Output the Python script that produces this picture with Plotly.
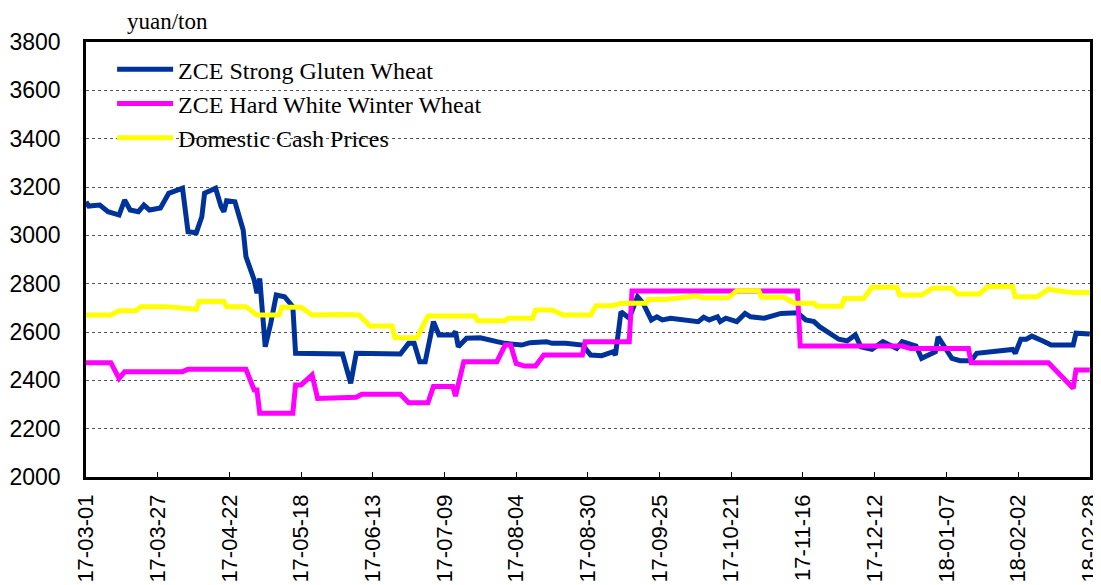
import plotly.graph_objects as go

# ZCE Strong Gluten Wheat
gluten_dates = ["2017-03-01","2017-03-02","2017-03-06","2017-03-09","2017-03-13","2017-03-15","2017-03-17",
    "2017-03-20","2017-03-22","2017-03-24","2017-03-28","2017-03-31","2017-04-05","2017-04-07","2017-04-10",
    "2017-04-12","2017-04-13","2017-04-17","2017-04-19","2017-04-20","2017-04-21","2017-04-24","2017-04-27",
    "2017-04-28","2017-05-01","2017-05-02","2017-05-03","2017-05-05","2017-05-07","2017-05-09","2017-05-12",
    "2017-05-15","2017-05-16","2017-06-02","2017-06-05","2017-06-07","2017-06-23","2017-06-26","2017-06-28",
    "2017-06-30","2017-07-02","2017-07-05","2017-07-07","2017-07-12","2017-07-13","2017-07-14","2017-07-17",
    "2017-07-22","2017-07-28","2017-07-31","2017-08-06","2017-08-09","2017-08-15","2017-08-17","2017-08-22",
    "2017-08-28","2017-08-31","2017-09-04","2017-09-08","2017-09-09","2017-09-11","2017-09-14","2017-09-17",
    "2017-09-19","2017-09-22","2017-09-24","2017-09-26","2017-09-29","2017-10-09","2017-10-11","2017-10-13",
    "2017-10-16","2017-10-17","2017-10-19","2017-10-23","2017-10-26","2017-10-28","2017-11-02","2017-11-08",
    "2017-11-14","2017-11-17","2017-11-20","2017-11-22","2017-11-26","2017-11-29","2017-12-02","2017-12-05",
    "2017-12-07","2017-12-11","2017-12-15","2017-12-20","2017-12-22","2017-12-27","2017-12-29","2018-01-03",
    "2018-01-04","2018-01-09","2018-01-12","2018-01-16","2018-01-18","2018-01-25","2018-01-31","2018-02-01",
    "2018-02-03","2018-02-05","2018-02-07","2018-02-11","2018-02-14","2018-02-22","2018-02-23","2018-02-28"]
gluten_values = [3139,3121,3125,3098,3084,3146,3105,3098,3125,3105,3113,3174,3195,3015,3011,3077,3174,3195,
    3118,3098,3143,3139,3022,2912,2815,2760,2822,2539,2636,2753,2746,2705,2512,2509,2388,2512,2509,2553,2553,
    2477,2477,2643,2588,2588,2601,2539,2574,2576,2560,2553,2546,2556,2560,2553,2553,2546,2505,2502,2518,2505,
    2684,2657,2746,2719,2650,2663,2650,2657,2643,2661,2650,2663,2643,2657,2643,2677,2663,2657,2677,2680,2650,
    2643,2622,2595,2570,2563,2588,2539,2528,2560,2532,2560,2542,2491,2518,2580,2491,2481,2481,2512,2521,2528,
    2512,2570,2570,2583,2563,2546,2546,2595,2592]

# ZCE Hard White Winter Wheat
hard_dates = ["2017-03-01","2017-03-10","2017-03-13","2017-03-15","2017-04-05","2017-04-07","2017-04-28",
    "2017-05-01","2017-05-02","2017-05-03","2017-05-15","2017-05-16","2017-05-18","2017-05-22","2017-05-24",
    "2017-06-07","2017-06-09","2017-06-23","2017-06-26","2017-07-03","2017-07-05","2017-07-12","2017-07-13",
    "2017-07-16","2017-07-28","2017-07-31","2017-08-02","2017-08-04","2017-08-07","2017-08-11","2017-08-14",
    "2017-08-28","2017-08-29","2017-09-14","2017-09-15","2017-11-14","2017-11-15","2017-12-22","2017-12-25",
    "2018-01-15","2018-01-16","2018-02-13","2018-02-22","2018-02-23","2018-02-28"]
hard_values = [2473,2473,2408,2436,2436,2446,2446,2360,2360,2264,2264,2381,2381,2422,2325,2330,2342,2342,
    2307,2307,2375,2375,2335,2477,2477,2546,2546,2470,2459,2459,2505,2505,2560,2560,2770,2770,2542,2542,2532,
    2532,2473,2473,2367,2443,2443]

# Domestic Cash Prices
cash_dates = ["2017-03-01","2017-03-10","2017-03-13","2017-03-19","2017-03-21","2017-03-30","2017-04-10",
    "2017-04-11","2017-04-20","2017-04-21","2017-04-28","2017-05-02","2017-05-10","2017-05-11","2017-05-18",
    "2017-05-22","2017-06-01","2017-06-08","2017-06-12","2017-06-20","2017-06-21","2017-06-29","2017-07-03",
    "2017-07-20","2017-07-21","2017-07-31","2017-08-01","2017-08-10","2017-08-11","2017-08-17","2017-08-21",
    "2017-08-31","2017-09-02","2017-09-08","2017-09-11","2017-09-20","2017-09-21","2017-09-27","2017-10-08",
    "2017-10-11","2017-10-20","2017-10-23","2017-10-31","2017-11-01","2017-11-09","2017-11-13","2017-11-20",
    "2017-11-21","2017-11-30","2017-12-01","2017-12-08","2017-12-11","2017-12-20","2017-12-21","2017-12-29",
    "2018-01-02","2018-01-09","2018-01-11","2018-01-19","2018-01-22","2018-01-31","2018-02-01","2018-02-09",
    "2018-02-13","2018-02-17","2018-02-22","2018-02-28"]
cash_values = [2670,2670,2688,2688,2705,2705,2694,2726,2726,2705,2705,2670,2670,2702,2702,2670,2672,2670,
    2625,2625,2576,2576,2666,2666,2647,2647,2657,2657,2691,2691,2670,2670,2709,2709,2719,2719,2735,2735,2749,
    2742,2742,2771,2771,2744,2744,2719,2719,2707,2707,2739,2739,2785,2785,2753,2753,2781,2781,2757,2757,2788,
    2788,2746,2746,2777,2770,2763,2763]

series_names = ["ZCE Strong Gluten Wheat", "ZCE Hard White Winter Wheat", "Domestic Cash Prices"]
series_colors = ["#003399", "#FF00FF", "#FFFF00"]

fig = go.Figure()
for name, xs, ys, col in zip(series_names,
                             [gluten_dates, hard_dates, cash_dates],
                             [gluten_values, hard_values, cash_values],
                             series_colors):
    fig.add_trace(go.Scatter(x=xs, y=ys, mode="lines", name=name,
                             line=dict(color=col, width=5)))

# page body has an 8px margin: figure size/margins compensate for it
fig.update_layout(
    width=1093, height=577,
    margin=dict(l=78, r=11, t=34, b=108, autoexpand=False),
    paper_bgcolor="white", plot_bgcolor="white",
    showlegend=True,
    legend=dict(x=0.026, y=0.988, xanchor="left", yanchor="top",
                font=dict(family="Liberation Serif", size=24, color="black"),
                bgcolor="rgba(0,0,0,0)", borderwidth=0, itemwidth=56,
                tracegroupgap=0),
    annotations=[dict(text="yuan/ton", xref="paper", yref="paper", x=(125-86)/1004, y=1.0,
                      xanchor="left", yanchor="bottom", yshift=6, showarrow=False,
                      font=dict(family="Liberation Serif", size=23, color="black"))],
)
fig.update_xaxes(
    type="date", range=["2017-03-01", "2018-02-28 02:00"],
    tick0="2017-03-01", dtick=26*86400000, tickformat="%y-%m-%d", tickangle=-90,
    ticks="inside", ticklen=5, tickcolor="black", tickwidth=1,
    showgrid=False, showline=True, linecolor="black", linewidth=2.5, mirror=True,
    tickfont=dict(family="Liberation Sans", size=22, color="black"),
    ticklabelstandoff=6, ticklabeloverflow="allow",
)
fig.update_yaxes(
    range=[2000, 3800], dtick=200, tick0=2000,
    showgrid=True, gridcolor="#555555", gridwidth=1, griddash="dot",
    showline=True, linecolor="black", linewidth=2.5, mirror=True, zeroline=False,
    ticks="", tickfont=dict(family="Liberation Sans", size=23, color="black"),
    ticklabelstandoff=18,
)
fig.write_html("out.html")
